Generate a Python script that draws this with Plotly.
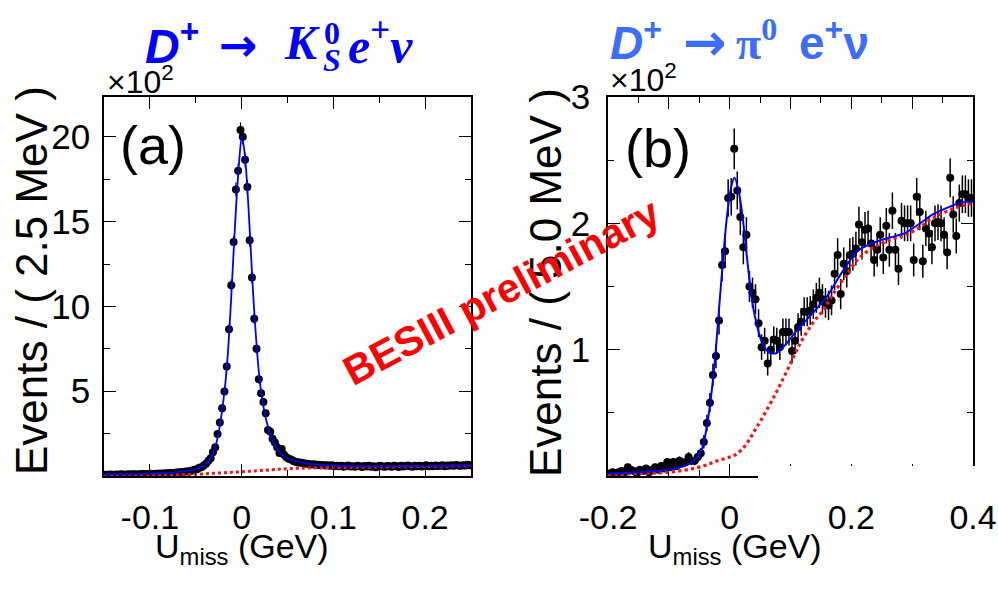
import numpy as np
import plotly.graph_objects as go

# ---------------- panel (a): D+ -> K0S e+ nu  (2.5 MeV bins, events x 100) ----------------
KS_LO, KS_BIN = -0.15, 0.0025
ks_events = [
    0.08, 0.07, 0.09, 0.08, 0.07, 0.09, 0.08, 0.10, 0.09, 0.08,
    0.10, 0.09, 0.11, 0.10, 0.09, 0.11, 0.12, 0.10, 0.12, 0.11,
    0.13, 0.12, 0.14, 0.13, 0.15, 0.14, 0.16, 0.15, 0.18, 0.17,
    0.18, 0.21, 0.20, 0.23, 0.22, 0.27, 0.26, 0.30, 0.33, 0.37,
    0.40, 0.48, 0.52, 0.62, 0.72, 0.90, 1.05, 1.40, 1.70, 2.48,
    3.16, 4.00, 4.98, 6.45, 8.65, 11.25, 13.80, 16.90, 18.00, 20.40,
    20.00, 18.65, 17.04, 13.90, 11.70, 9.28, 7.50, 5.70, 4.88, 4.37,
    3.70, 2.71, 2.61, 2.20, 1.98, 1.70, 1.35, 1.59, 1.25, 1.10,
    1.02, 0.98, 0.88, 0.84, 0.80, 0.80, 0.76, 0.74, 0.72, 0.71,
    0.68, 0.70, 0.66, 0.67, 0.63, 0.65, 0.62, 0.64, 0.60, 0.63,
    0.58, 0.61, 0.57, 0.60, 0.55, 0.59, 0.62, 0.56, 0.58, 0.54,
    0.60, 0.57, 0.53, 0.59, 0.56, 0.61, 0.55, 0.58, 0.52, 0.57,
    0.60, 0.56, 0.54, 0.59, 0.57, 0.55, 0.61, 0.58, 0.53, 0.60,
    0.56, 0.59, 0.62, 0.57, 0.55, 0.60, 0.58, 0.61, 0.56, 0.59,
    0.63, 0.58, 0.60, 0.57, 0.62, 0.59, 0.61, 0.64, 0.58, 0.62,
    0.60, 0.63, 0.61, 0.65, 0.62, 0.60, 0.64, 0.62, 0.66, 0.63,
]
# total fit (signal + background)
ks_fit_x = [-0.15, -0.12, -0.10, -0.08, -0.07, -0.06, -0.05, -0.045, -0.04, -0.035,
            -0.0325, -0.03, -0.0275, -0.025, -0.0225, -0.02, -0.0175, -0.015, -0.0125, -0.01,
            -0.0075, -0.005, -0.0025, 0.0, 0.0025, 0.005, 0.0075, 0.01, 0.0125, 0.015,
            0.0175, 0.02, 0.0225, 0.025, 0.0275, 0.03, 0.035, 0.04, 0.045, 0.05,
            0.06, 0.07, 0.08, 0.10, 0.13, 0.16, 0.20, 0.25]
ks_fit_total = [0.09, 0.11, 0.14, 0.19, 0.23, 0.30, 0.41, 0.50, 0.66, 0.95,
                1.18, 1.50, 1.95, 2.60, 3.40, 4.40, 5.60, 7.20, 9.40, 11.90,
                14.50, 16.80, 18.70, 20.00, 19.40, 18.00, 15.80, 13.30, 10.80, 8.70,
                6.90, 5.50, 4.50, 3.75, 3.15, 2.65, 1.95, 1.50, 1.22, 1.05,
                0.86, 0.74, 0.68, 0.62, 0.58, 0.57, 0.58, 0.62]
# background component
ks_bkg_x = [-0.15, -0.10, -0.08, -0.06, -0.04, -0.02, 0.0, 0.02, 0.04, 0.06, 0.08, 0.10, 0.15, 0.20, 0.25]
ks_bkg = [0.01, 0.02, 0.04, 0.08, 0.13, 0.19, 0.25, 0.32, 0.40, 0.45, 0.48, 0.50, 0.53, 0.56, 0.60]

# ---------------- panel (b): D+ -> pi0 e+ nu  (5.0 MeV bins, events x 100) ----------------
PI_LO, PI_BIN = -0.2, 0.005
pi_events = [
    0.02, 0.03, 0.02, 0.03, 0.04, 0.03, 0.07, 0.05, 0.04, 0.02,
    0.05, 0.04, 0.06, 0.03, 0.05, 0.07, 0.05, 0.08, 0.06, 0.11,
    0.07, 0.11, 0.08, 0.12, 0.10, 0.11, 0.15, 0.12, 0.12, 0.15,
    0.18, 0.27, 0.42, 0.58, 0.80, 0.95, 1.23, 1.67, 1.78, 2.20,
    2.21, 2.59, 2.26, 2.05, 1.81, 1.91, 1.50, 1.45, 1.40, 1.21,
    1.02, 1.07, 0.89, 1.00, 1.08, 1.07, 1.02, 1.14, 1.14, 1.14,
    0.99, 1.07, 1.18, 1.22, 1.30, 1.30, 1.31, 1.36, 1.41, 1.45,
    1.40, 1.37, 1.35, 1.39, 1.60, 1.75, 1.44, 1.68, 1.62, 1.75,
    1.76, 1.80, 1.99, 1.85, 1.95, 1.96, 1.84, 1.71, 1.79, 1.91,
    1.73, 1.98, 1.79, 2.10, 1.79, 1.64, 2.02, 2.00, 2.00, 2.00,
    1.71, 2.21, 2.09, 1.70, 1.96, 1.92, 1.81, 2.00, 2.01, 2.00,
    1.91, 1.77, 2.36, 2.07, 1.90, 2.16, 2.23, 2.23, 2.20, 2.20,
]
pi_fit_x = [-0.20, -0.15, -0.10, -0.08, -0.065, -0.055, -0.045, -0.035, -0.025, -0.015,
            -0.005, 0.003, 0.008, 0.015, 0.022, 0.030, 0.037, 0.045, 0.053, 0.064,
            0.075, 0.086, 0.097, 0.110, 0.127, 0.144, 0.160, 0.183, 0.210, 0.238,
            0.265, 0.287, 0.310, 0.334, 0.361, 0.383, 0.40]
pi_fit_total = [0.02, 0.03, 0.05, 0.07, 0.10, 0.14, 0.22, 0.47, 0.88, 1.47,
                2.03, 2.30, 2.36, 2.25, 2.02, 1.66, 1.38, 1.19, 1.06, 0.98,
                0.97, 1.01, 1.07, 1.15, 1.24, 1.33, 1.42, 1.60, 1.78, 1.85,
                1.89, 1.92, 1.99, 2.07, 2.13, 2.17, 2.17]
pi_bkg_x = [-0.20, -0.15, -0.10, -0.05, -0.02, 0.0, 0.01, 0.02, 0.03, 0.04, 0.05, 0.072, 0.094,
            0.116, 0.138, 0.155, 0.17, 0.19, 0.21, 0.23, 0.25, 0.27, 0.29, 0.31, 0.33, 0.35,
            0.37, 0.39, 0.40]
pi_bkg = [0.01, 0.02, 0.03, 0.07, 0.12, 0.15, 0.17, 0.21, 0.27, 0.35, 0.43, 0.62, 0.83,
          1.05, 1.22, 1.32, 1.44, 1.58, 1.71, 1.79, 1.84, 1.88, 1.91, 1.96, 2.03, 2.08,
          2.12, 2.15, 2.16]

ks_ticks = [-0.1, 0.0, 0.1, 0.2]
ks_ticklabels = ["-0.1", "0", "0.1", "0.2"]
pi_ticks = [-0.2, -0.1, 0.0, 0.1, 0.2, 0.3, 0.4]
pi_ticklabels = ["-0.2", "", "0", "", "0.2", "", "0.4"]

# ---------------------------------------------------------------------------
W, H = 998, 590
SANS = "Liberation Sans, Arial, sans-serif"
SERIF = "Liberation Serif, Times New Roman, serif"
ARROW = "DejaVu Sans, sans-serif"


def px(x):
    return x / W


def py(y):
    return 1 - y / H


def centers(lo, width, n):
    return [lo + width * (i + 0.5) for i in range(n)]


def poisson_err(vals):
    v = np.array(vals)
    return np.sqrt(v * 100.0) / 100.0


fig = go.Figure()

ks_x = centers(KS_LO, KS_BIN, len(ks_events))
pi_x = centers(PI_LO, PI_BIN, len(pi_events))

fig.add_trace(go.Scatter(x=ks_x, y=ks_events, mode="markers", xaxis="x", yaxis="y",
                         marker=dict(color="black", size=8),
                         error_y=dict(type="data", array=poisson_err(ks_events), color="black",
                                      thickness=1.2, width=0)))
fig.add_trace(go.Scatter(x=ks_bkg_x, y=ks_bkg, mode="lines", xaxis="x", yaxis="y",
                         line=dict(color="#ff1010", width=3, dash="dot", shape="spline")))
fig.add_trace(go.Scatter(x=ks_fit_x, y=ks_fit_total, mode="lines", xaxis="x", yaxis="y",
                         line=dict(color="#0000ff", width=1.8, shape="spline", smoothing=0.6)))

fig.add_trace(go.Scatter(x=pi_x, y=pi_events, mode="markers", xaxis="x2", yaxis="y2",
                         marker=dict(color="black", size=8),
                         error_y=dict(type="data", array=poisson_err(pi_events), color="black",
                                      thickness=1.5, width=0)))
fig.add_trace(go.Scatter(x=pi_bkg_x, y=pi_bkg, mode="lines", xaxis="x2", yaxis="y2",
                         line=dict(color="#ff1010", width=3.2, dash="dot", shape="spline")))
fig.add_trace(go.Scatter(x=pi_fit_x, y=pi_fit_total, mode="lines", xaxis="x2", yaxis="y2",
                         line=dict(color="#0000ff", width=2, shape="spline", smoothing=0.7)))

Y0, Y1 = py(476), py(97)

axis_common = dict(showline=True, linecolor="black", linewidth=1.5, mirror="ticks",
                   ticks="inside", tickcolor="black", tickwidth=1.3, ticklen=12,
                   showgrid=False, zeroline=False, tickmode="array", automargin=False)
x_tickfont = dict(family=SANS, size=34, color="black")
y_tickfont = dict(family=SANS, size=35, color="black")


def minor(step):
    return dict(tickmode="linear", tick0=0, dtick=step, ticks="inside",
                ticklen=6, tickcolor="black", tickwidth=1.3)


fig.update_layout(
    width=W, height=H, autosize=False,
    margin=dict(l=0, r=0, t=0, b=0, pad=0, autoexpand=False),
    paper_bgcolor="white", plot_bgcolor="white",
    showlegend=False,
    xaxis=dict(domain=[px(104), px(471)], range=[-0.15, 0.25], anchor="y",
               tickvals=ks_ticks, ticktext=ks_ticklabels, ticklabelstandoff=10,
               tickfont=x_tickfont, minor=minor(0.05), **axis_common),
    yaxis=dict(domain=[Y0, Y1], range=[0, 22.35], anchor="x",
               tickvals=[5, 10, 15, 20], ticktext=["5", "10", "15", "20"], ticklabelstandoff=5,
               tickfont=y_tickfont, minor=minor(2.5), **axis_common),
    xaxis2=dict(domain=[px(608), px(973)], range=[-0.2, 0.4], anchor="y2",
                tickvals=pi_ticks, ticktext=pi_ticklabels, ticklabelstandoff=10,
                tickfont=x_tickfont, minor=minor(0.05), **axis_common),
    yaxis2=dict(domain=[Y0, Y1], range=[0, 3.0], anchor="x2",
                tickvals=[1, 2, 3], ticktext=["1", "2", "3"], ticklabelstandoff=9,
                tickfont=y_tickfont, minor=minor(0.5), **axis_common),
)

annotations = []


def label(x, y, text, size, family=SANS, color="black", xanchor="center", yanchor="middle", angle=0):
    annotations.append(dict(x=px(x), y=py(y), xref="paper", yref="paper", text=text,
                            showarrow=False, xanchor=xanchor, yanchor=yanchor, textangle=angle,
                            font=dict(family=family, size=size, color=color)))


# axis titles
label(32, 281, "Events / ( 2.5 MeV )", 44, angle=-90)
label(545, 283, "Events / ( 5.0 MeV )", 44, angle=-90)
label(242, 548, "U<sub>miss</sub> (GeV)", 34)
label(735, 548, "U<sub>miss</sub> (GeV)", 34)

# exponent markers
label(105, 80, "×10<sup>2</sup>", 32, xanchor="left")
label(608, 78, "×10<sup>2</sup>", 32, xanchor="left")

# panel tags
label(153, 145, "(a)", 54)
label(658, 148, "(b)", 54)

# decay titles
BLUE_A = "#0000ff"
BLUE_B = "#3d6dff"
label(143, 43, "<b><i>D</i><sup>+</sup></b>", 48, color=BLUE_A, xanchor="left")
label(238, 45, "<b>→</b>", 46, family=ARROW, color=BLUE_A)
label(282, 43, "<b><i>K</i></b>", 48, family=SERIF, color=BLUE_A, xanchor="left")
label(332, 33, "<b>0</b>", 32, family=SERIF, color=BLUE_A)
label(332, 60, "<b><i>S</i></b>", 32, family=SERIF, color=BLUE_A)
label(346, 43, "<b><i>e</i><sup>+</sup><i>ν</i></b>", 50, family=SERIF, color=BLUE_A, xanchor="left")

label(608, 40, "<b><i>D</i><sup>+</sup></b>", 46, color=BLUE_B, xanchor="left")
label(705, 42, "<b>→</b>", 52, family=ARROW, color=BLUE_B)
label(734, 40, "<b>π<sup>0</sup></b>", 46, family=SERIF, color=BLUE_B, xanchor="left")
label(797, 40, "<b>e<sup>+</sup>ν</b>", 46, color=BLUE_B, xanchor="left")

# watermark
label(501, 292, "<b>BESIII preliminary</b>", 41, color="#ff0000", angle=-28)

fig.update_layout(annotations=annotations)

# erased stretch of the lower frame of panel (b)
fig.add_shape(type="rect", xref="paper", yref="paper", layer="above",
              x0=px(758), x1=px(977), y0=py(481), y1=py(466),
              line=dict(width=0), fillcolor="white")

fig.write_html("out.html")
